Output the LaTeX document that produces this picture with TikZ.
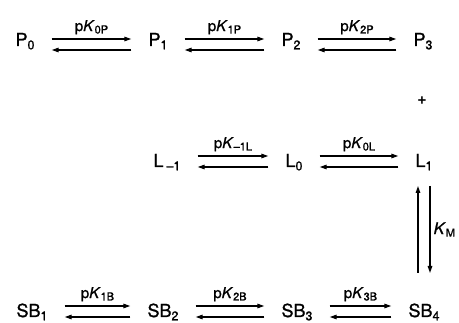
\documentclass[tikz,border=0pt]{standalone}
\usepackage{fontspec}
\setmainfont{TeX Gyre Heros}
\newfontfamily\heavy{TeX Gyre Heros}[FakeBold=1.2]
\usetikzlibrary{arrows.meta,calc}
\newcommand\msub[1]{\raisebox{-0.35ex}{\fontsize{12.5}{12.5}\selectfont #1}}
\newcommand\lsub[1]{\raisebox{-0.3ex}{\fontsize{11}{11}\selectfont #1}}
\newcommand\pK[1]{p\textit{K}\lsub{#1}}
\newcommand\eqpair[6]{%
  \draw[rx] ([xshift=17pt,yshift=#3]#1.base east) -- node[lab,above=4pt]{#5} ([xshift=-17pt,yshift=#3]#2.base west);
  \draw[rx] ([xshift=-17pt,yshift=#4]#2.base west) -- ([xshift=17pt,yshift=#4]#1.base east);}
\begin{document}
\begin{tikzpicture}[x=1pt,y=-1pt,
  species/.style={font=\heavy\fontsize{18}{18}\selectfont, inner sep=0pt, anchor=base},
  lab/.style={font=\heavy\fontsize{15}{15}\selectfont, inner sep=0pt},
  rx/.style={line width=1.3pt, -{Triangle[length=7pt,width=4.5pt]}},
]
\useasboundingbox (0,0) rectangle (459,323);
\clip (0,0) rectangle (459,323);
% row 1
\node[species] (P0) at (25,46) {P\msub{0}};
\node[species] (P1) at (158,46) {P\msub{1}};
\node[species] (P2) at (291,46) {P\msub{2}};
\node[species] (P3) at (423,46) {P\msub{3}};
\eqpair{P0}{P1}{7pt}{-4pt}{\pK{0P}}{}
\eqpair{P1}{P2}{7pt}{-4pt}{\pK{1P}}{}
\eqpair{P2}{P3}{7pt}{-4pt}{\pK{2P}}{}
\node[font=\fontsize{16}{16}\selectfont\bfseries, inner sep=0pt] (plus) at (422,101) {+};
% row 2
\node[species] (Lm1) at (167,167) {L\,\msub{–1}};
\node[species] (L0) at (294,167) {L\msub{0}};
\node[species] (L1) at (424,167) {L\msub{1}};
\eqpair{Lm1}{L0}{11pt}{0pt}{\pK{–1L}}{}
\eqpair{L0}{L1}{11pt}{0pt}{\pK{0L}}{}
% row 3
\node[species] (SB1) at (32,317) {SB\msub{1}};
\node[species] (SB2) at (163,317) {SB\msub{2}};
\node[species] (SB3) at (297,317) {SB\msub{3}};
\node[species] (SB4) at (424,317) {SB\msub{4}};
\eqpair{SB1}{SB2}{11pt}{0pt}{\pK{1B}}{}
\eqpair{SB2}{SB3}{11pt}{0pt}{\pK{2B}}{}
\eqpair{SB3}{SB4}{11pt}{0pt}{\pK{3B}}{}
% vertical
\draw[rx] ($(SB4.base)+(-6,-44)$) -- ($(L1.base)+(-6,19)$);
\draw[rx] ($(L1.base)+(6,19)$) -- node[midway,right=3pt,font=\heavy\fontsize{16}{16}\selectfont,inner sep=0pt]{\textit{K}\lsub{M}} ($(SB4.base)+(6,-44)$);
\end{tikzpicture}
\end{document}
